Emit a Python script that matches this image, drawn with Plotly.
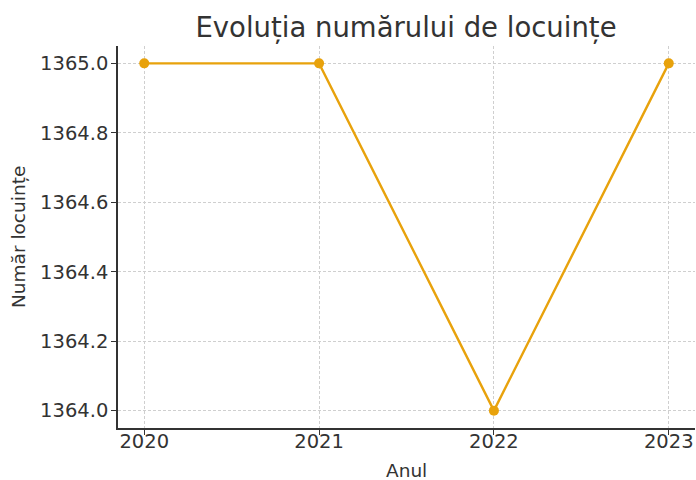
import plotly.graph_objects as go

years = [2020, 2021, 2022, 2023]
locuinte = [1365, 1365, 1364, 1365]
y_ticks = [1364.0, 1364.2, 1364.4, 1364.6, 1364.8, 1365.0]
y_tick_labels = ["1364.0", "1364.2", "1364.4", "1364.6", "1364.8", "1365.0"]

color = "#E8A20C"
fig = go.Figure(go.Scatter(
    x=years, y=locuinte, mode="lines+markers",
    line=dict(color=color, width=2.4),
    marker=dict(color=color, size=10),
    cliponaxis=False,
))

fig.update_layout(
    width=696, height=480,
    margin=dict(l=118, r=1, t=46, b=52, autoexpand=False),
    paper_bgcolor="white", plot_bgcolor="white",
    font=dict(family="DejaVu Sans", color="#333333", size=19),
    title=dict(text="Evoluția numărului de locuințe", x=406 / 696, xanchor="center",
               xref="container", yref="container", y=1 - 27 / 480, yanchor="middle",
               font=dict(size=27.5, color="#333333")),
    showlegend=False,
    annotations=[
        dict(text="Anul", x=0.5, y=0, xref="paper", yref="paper", yanchor="middle",
             yshift=-42, showarrow=False, font=dict(size=18.5, color="#333333")),
        dict(text="Număr locuințe", x=0, y=0.5, xref="paper", yref="paper",
             xanchor="center", xshift=-100, textangle=-90, showarrow=False,
             font=dict(size=18.5, color="#333333")),
    ],
)
fig.update_xaxes(
    range=[2019.85, 2023.15], tickvals=years, ticktext=[str(y) for y in years],
    showline=True, linecolor="#333333", linewidth=1.5, mirror=False,
    ticks="outside", ticklen=5, tickcolor="#333333", automargin=False,
    showgrid=True, gridcolor="#cfcfcf", griddash="3px,2px", gridwidth=1,
    zeroline=False, tickfont=dict(size=19.5), ticklabelstandoff=-10,
)
fig.update_yaxes(
    range=[1363.95, 1365.05], tickvals=y_ticks, ticktext=y_tick_labels,
    showline=True, linecolor="#333333", linewidth=1.5, mirror=False,
    ticks="outside", ticklen=5, tickcolor="#333333", automargin=False,
    showgrid=True, gridcolor="#cfcfcf", griddash="3px,2px", gridwidth=1,
    zeroline=False, tickfont=dict(size=19.5), ticklabelstandoff=-1,
)
fig.write_html("out.html", config={"displayModeBar": False},
               post_script="document.body.style.margin='0';")
